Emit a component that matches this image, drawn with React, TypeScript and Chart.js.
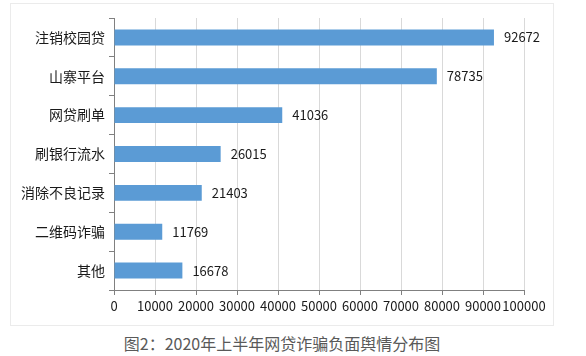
import React, { useEffect, useRef } from "react";
import { Chart, registerables } from "chart.js";

Chart.register(...registerables);

const categories = ["注销校园贷", "山寨平台", "网贷刷单", "刷银行流水", "消除不良记录", "二维码诈骗", "其他"];
const values = [92672, 78735, 41036, 26015, 21403, 11769, 16678];
const xMax = 100000;
const xStep = 10000;
const caption = "图2：2020年上半年网贷诈骗负面舆情分布图";

const FONT = '"Noto Sans CJK SC", "Noto Sans", sans-serif';

const valueLabels = {
  id: "valueLabels",
  afterDatasetsDraw(chart: any) {
    const { ctx } = chart;
    const meta = chart.getDatasetMeta(0);
    ctx.save();
    ctx.font = `13px ${FONT}`;
    ctx.fillStyle = "#1a1a1a";
    ctx.textAlign = "left";
    ctx.textBaseline = "middle";
    meta.data.forEach((bar: any, i: number) => {
      ctx.fillText(String(values[i]), bar.x + 10, bar.y);
    });
    ctx.restore();
  },
};

export default function App() {
  const ref = useRef<HTMLCanvasElement>(null);
  useEffect(() => {
    if (!ref.current) return;
    const chart = new Chart(ref.current, {
      type: "bar",
      data: {
        labels: categories,
        datasets: [
          {
            data: values,
            backgroundColor: "#5b9bd5",
            borderWidth: 0,
            barPercentage: 0.41,
            categoryPercentage: 1,
          },
        ],
      },
      options: {
        indexAxis: "y",
        animation: false,
        responsive: false,
        maintainAspectRatio: false,
        layout: { padding: { top: 14, right: 29, bottom: 0, left: 0 } },
        plugins: { legend: { display: false }, tooltip: { enabled: false } },
        scales: {
          x: {
            min: 0,
            max: xMax,
            afterFit(scale: any) {
              scale.height = 35;
            },
            ticks: {
              stepSize: xStep,
              color: "#1a1a1a",
              font: { family: FONT, size: 13 },
              padding: 3,
              maxRotation: 0,
              autoSkip: false,
              callback: (v: any) => String(v),
            },
            grid: {
              color: "#d9d9d9",
              tickColor: "#808080",
              tickLength: 5,
              drawTicks: true,
            },
            border: { color: "#808080", width: 1 },
          },
          y: {
            afterFit(scale: any) {
              scale.width = 103;
            },
            ticks: {
              color: "#1a1a1a",
              font: { family: FONT, size: 14 },
              padding: 4,
            },
            grid: {
              offset: true,
              drawOnChartArea: false,
              drawTicks: true,
              tickLength: 5,
              tickColor: "#808080",
            },
            border: { color: "#808080", width: 1 },
          },
        },
      },
      plugins: [valueLabels],
    });
    return () => chart.destroy();
  }, []);

  return (
    <div style={{ position: "fixed", left: 0, top: 0, width: 586, height: 356, background: "#fff", fontFamily: FONT }}>
      <div
        style={{
          position: "absolute",
          left: 10,
          top: 3,
          width: 542,
          height: 321,
          border: "1px solid #ebebeb",
        }}
      >
        <canvas ref={ref} width={542} height={321} style={{ display: "block" }} />
      </div>
      <div
        style={{
          position: "absolute",
          left: 0,
          width: 564,
          top: 333,
          textAlign: "center",
          fontSize: 16,
          lineHeight: "20px",
          color: "#595959",
          whiteSpace: "nowrap",
        }}
      >
        {caption}
      </div>
    </div>
  );
}
